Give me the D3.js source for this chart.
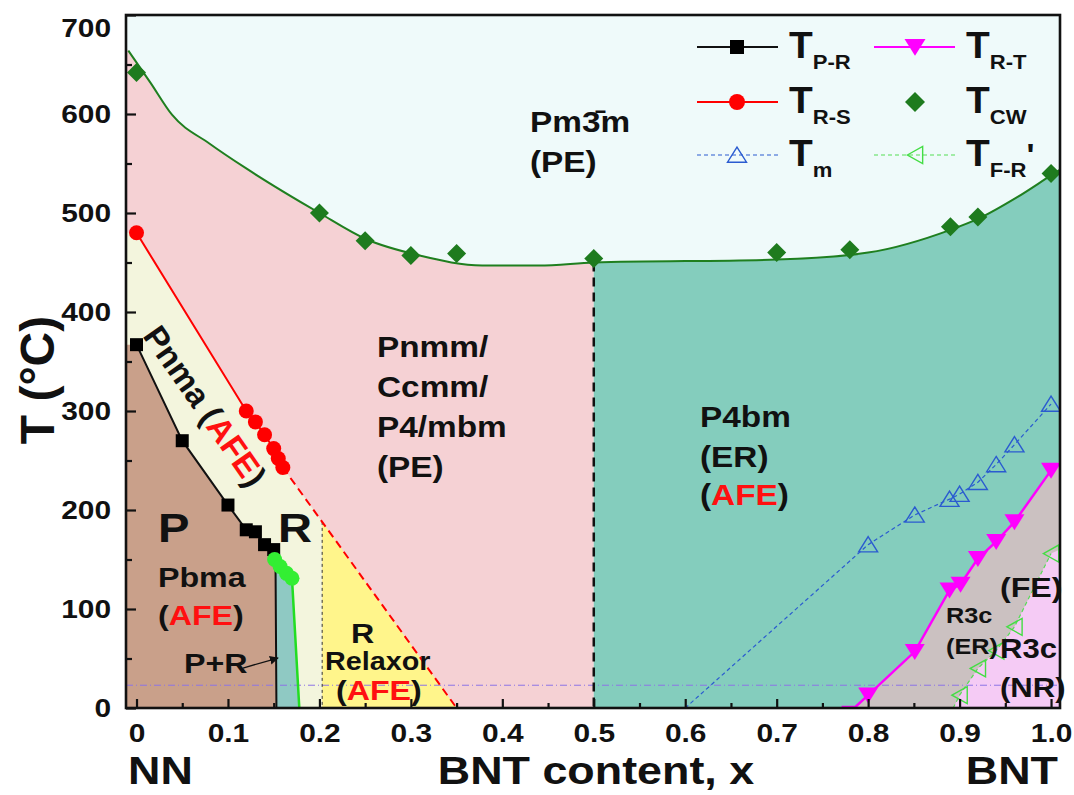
<!DOCTYPE html>
<html>
<head>
<meta charset="utf-8">
<script src="https://cdn.jsdelivr.net/npm/d3@7"></script>
<style>
body { margin: 0; background: #fff; }
text { font-family: "Liberation Sans", Arial, sans-serif; font-weight: bold; fill: #111; }
</style>
</head>
<body>
<div id="chart"></div>
<script>
// ---- data (x = BNT content, T in degC) ----
const tPR = [[0, 367], [0.05, 270], [0.1, 205], [0.12, 180], [0.13, 178], [0.14, 165], [0.15, 160]];
const tPRTail = [[0.152, 145], [0.153, 0]];
const tRS = [[0, 480], [0.12, 300], [0.13, 289], [0.14, 276], [0.15, 262], [0.155, 252], [0.16, 243]];
const tRSDash = [[0.16, 243], [0.35, 0]];
const relaxorEdge = [[0.203, 188], [0.203, 0]];
const greenDots = [[0.151, 150], [0.157, 143], [0.164, 136], [0.17, 131]];
const greenTail = [[0.178, 0]];
const tCW = [[0, 642], [0.2, 500], [0.25, 472], [0.3, 457], [0.35, 459], [0.5, 454], [0.7, 460], [0.78, 463], [0.89, 486], [0.92, 496], [1.0, 540]];
const cwFit = [[-0.009, 664], [0.015, 632], [0.039, 599], [0.08, 570], [0.12, 545], [0.2, 500], [0.25, 474], [0.31, 457], [0.378, 447], [0.44, 447], [0.5, 450], [0.7, 453], [0.8, 460], [0.89, 483], [0.92, 494], [0.963, 516], [1.0, 538], [1.012, 545]];
const cwEdge = [[-0.0115, 667]];
const peBorder = [[0.5, 450], [0.5, 0]];
const tRT = [[0.8, 13], [0.851, 57], [0.889, 119], [0.901, 125], [0.92, 151], [0.94, 168], [0.96, 188], [1.0, 240]];
const tRTStart = [[0.771, 1], [0.786, 1]];
const tm = [[0.8, 165], [0.851, 195], [0.889, 211], [0.9, 216], [0.92, 228], [0.94, 246], [0.96, 266], [1.0, 307]];
const tmStart = [[0.6, 0]];
const tFR = [[0.9, 13], [0.92, 40], [0.94, 58], [0.96, 82], [1.0, 156]];
const tFRStart = [[0.893, 0]];
const roomT = 23;

const xTicks = [0, 0.1, 0.2, 0.3, 0.4, 0.5, 0.6, 0.7, 0.8, 0.9, 1.0];
const xTickLabels = ['0', '0.1', '0.2', '0.3', '0.4', '0.5', '0.6', '0.7', '0.8', '0.9', '1.0'];
const xMinor = [0.05, 0.15, 0.25, 0.35, 0.45, 0.55, 0.65, 0.75, 0.85, 0.95];
const yTicks = [0, 100, 200, 300, 400, 500, 600, 700];
const yMinor = [50, 150, 250, 350, 450, 550, 650];

const W = 1074, H = 795;
const SX = 1.15; // text in the figure is a bit wider than plain Arial
const xDom = [-0.0115, 1.0098];
const X0 = xDom[0], X1 = xDom[1];
const x = d3.scaleLinear().domain(xDom).range([126, 1060]);
const y = d3.scaleLinear().domain([0, 700]).range([708, 15]);

const svg = d3.select('#chart').append('svg').attr('width', W).attr('height', H);
const defs = svg.append('defs');
defs.append('clipPath').attr('id', 'plot').append('rect')
  .attr('x', x(X0)).attr('y', y(700)).attr('width', x(X1) - x(X0)).attr('height', y(0) - y(700));
defs.append('clipPath').attr('id', 'leftPart').append('rect')
  .attr('x', x(X0)).attr('y', 0).attr('width', x(0.5) - x(X0)).attr('height', H);
defs.append('clipPath').attr('id', 'rightPart').append('rect')
  .attr('x', x(0.5)).attr('y', 0).attr('width', x(X1) - x(0.5)).attr('height', H);
defs.append('marker').attr('id', 'arrow').attr('viewBox', '0 0 10 10').attr('refX', 9).attr('refY', 5)
  .attr('markerWidth', 9).attr('markerHeight', 9).attr('markerUnits', 'userSpaceOnUse').attr('orient', 'auto')
  .append('path').attr('d', 'M0,0 L10,5 L0,10 Z').attr('fill', '#111');

const plot = svg.append('g').attr('clip-path', 'url(#plot)');
const line = d3.line().x(d => x(d[0])).y(d => y(d[1]));
const poly = pts => line(pts) + 'Z';

// phase regions
plot.append('rect').attr('x', x(X0)).attr('y', y(700)).attr('width', x(X1) - x(X0)).attr('height', y(0) - y(700)).attr('fill', '#effafa');
const cwArea = d3.area().x(d => x(d[0])).y0(y(0)).y1(d => y(d[1])).curve(d3.curveMonotoneX);
plot.append('path').datum(cwEdge.concat(cwFit)).attr('d', cwArea).attr('fill', '#f5d1d4').attr('clip-path', 'url(#leftPart)');
plot.append('path').datum(cwFit).attr('d', cwArea).attr('fill', '#84cdbd').attr('clip-path', 'url(#rightPart)');

const paleRegion = [[X0, tRS[0][1]]].concat(tRS, relaxorEdge, [[X0, 0]]);
plot.append('path').attr('d', poly(paleRegion)).attr('fill', '#f3f5dd');
const relaxorRegion = [relaxorEdge[0], tRSDash[1], relaxorEdge[1]];
plot.append('path').attr('d', poly(relaxorRegion)).attr('fill', '#fff58b');
const pRegion = [[X0, tPR[0][1]]].concat(tPR, tPRTail, [[X0, 0]]);
plot.append('path').attr('d', poly(pRegion)).attr('fill', '#c9a08a');
const prRegion = [tPRTail[1], tPRTail[0]].concat(greenDots, greenTail);
plot.append('path').attr('d', poly(prRegion)).attr('fill', '#8fc9c3');
const erRegion = tRTStart.concat(tRT, [[X1, 250], [X1, 0], [tRTStart[0][0], 0]]);
plot.append('path').attr('d', poly(erRegion)).attr('fill', '#cbc1c1');
const nrRegion = tFRStart.concat(tFR, [[X1, 160], [X1, 0]]);
plot.append('path').attr('d', poly(nrRegion)).attr('fill', '#f5cbf5');

// boundary lines
plot.append('path').attr('d', line([[X0, roomT], [X1, roomT]])).attr('stroke', '#8d73e6').attr('stroke-width', 1)
  .attr('stroke-dasharray', '7,3,1,3').attr('fill', 'none');
plot.append('path').attr('d', line(relaxorEdge)).attr('stroke', '#333').attr('stroke-width', 1)
  .attr('stroke-dasharray', '3,3').attr('fill', 'none');
plot.append('path').attr('d', line(peBorder)).attr('stroke', '#111').attr('stroke-width', 2.5)
  .attr('stroke-dasharray', '9,6').attr('fill', 'none');
plot.append('path').datum(cwFit).attr('d', line.curve(d3.curveMonotoneX)).attr('stroke', '#1f7f1f').attr('stroke-width', 2).attr('fill', 'none');
line.curve(d3.curveLinear);
plot.append('path').attr('d', line(tRS)).attr('stroke', '#ff0000').attr('stroke-width', 2).attr('fill', 'none');
plot.append('path').attr('d', line(tRSDash)).attr('stroke', '#ff0000').attr('stroke-width', 2)
  .attr('stroke-dasharray', '8,5').attr('fill', 'none');
plot.append('path').attr('d', line(tPR.concat(tPRTail))).attr('stroke', '#111').attr('stroke-width', 2).attr('fill', 'none');
plot.append('path').attr('d', line(greenDots.concat(greenTail))).attr('stroke', '#22dd22').attr('stroke-width', 2.5).attr('fill', 'none');
plot.append('path').attr('d', line(tmStart.concat(tm))).attr('stroke', '#2a5bd0').attr('stroke-width', 1.2)
  .attr('stroke-dasharray', '4,3').attr('fill', 'none');
plot.append('path').attr('d', line(tFRStart.concat(tFR))).attr('stroke', '#55dd55').attr('stroke-width', 1.2)
  .attr('stroke-dasharray', '4,3').attr('fill', 'none');
plot.append('path').attr('d', line(tRTStart.concat(tRT))).attr('stroke', '#ff00ff').attr('stroke-width', 2.5).attr('fill', 'none');

// marker shapes
const shape = {
  square: s => `M${-s / 2},${-s / 2}h${s}v${s}h${-s}Z`,
  diamond: s => `M0,${-s / 2}L${s / 2},0L0,${s / 2}L${-s / 2},0Z`,
  up: s => `M0,${-s * 0.42}L${s / 2},${s * 0.38}L${-s / 2},${s * 0.38}Z`,
  down: s => `M${-s / 2},${-s * 0.38}L${s / 2},${-s * 0.38}L0,${s * 0.42}Z`,
  left: s => `M${-s * 0.45},0L${s * 0.45},${-s / 2}L${s * 0.45},${s / 2}Z`
};
function marks(g, data, kind, size, fill, stroke, sw) {
  g.selectAll(null).data(data).enter().append('path')
    .attr('transform', d => `translate(${x(d[0])},${y(d[1])})`)
    .attr('d', kind === 'circle' ? d3.symbol(d3.symbolCircle, size * size * Math.PI / 4)() : shape[kind](size))
    .attr('fill', fill).attr('stroke', stroke || 'none').attr('stroke-width', sw || 0);
}
marks(plot, tPR, 'square', 13, '#000');
marks(plot, tRS, 'circle', 15, '#ff0000');
marks(plot, greenDots, 'circle', 15, '#33ee33');
marks(plot, tCW, 'diamond', 19, '#1e7b1e');
marks(plot, tm, 'up', 19, 'none', '#2a5bd0', 1.4);
marks(plot, tFR, 'left', 17, 'none', '#44dd44', 1.4);
marks(plot, tRT, 'down', 20, '#ff00ff');

// axes with inward ticks
const ax = svg.append('g');
const gx = ax.append('g').attr('transform', `translate(0,${y(0)})`)
  .call(d3.axisBottom(x).tickValues(xTicks).tickFormat((d, i) => xTickLabels[i]).tickSizeInner(-9).tickSizeOuter(0).tickPadding(16));
ax.append('g').attr('transform', `translate(0,${y(0)})`)
  .call(d3.axisBottom(x).tickValues(xMinor).tickFormat('').tickSizeInner(-5).tickSizeOuter(0));
const gy = ax.append('g').attr('transform', `translate(${x(X0)},0)`)
  .call(d3.axisLeft(y).tickValues(yTicks).tickSizeInner(-10).tickSizeOuter(0).tickPadding(13));
ax.append('g').attr('transform', `translate(${x(X0)},0)`)
  .call(d3.axisLeft(y).tickValues(yMinor).tickFormat('').tickSizeInner(-6).tickSizeOuter(0));
ax.selectAll('.domain').remove();
ax.selectAll('.tick line').attr('stroke', '#111').attr('stroke-width', 2.2);
ax.selectAll('.tick text').attr('font-size', 26).attr('font-family', '"Liberation Sans", Arial, sans-serif')
  .attr('font-weight', 'bold').attr('fill', '#111').attr('transform', `scale(${SX},1)`);
gy.selectAll('.tick text').filter(d => d === 700).attr('dy', '0.32em').attr('y', 13);
gx.selectAll('.tick text').attr('x', 0);

svg.append('rect').attr('x', x(X0)).attr('y', y(700)).attr('width', x(X1) - x(X0)).attr('height', y(0) - y(700))
  .attr('fill', 'none').attr('stroke', '#111').attr('stroke-width', 2.6);

// text helper: parts are strings or {t, c, s, dy}
function label(px, py, parts, size, opt = {}) {
  const sx = opt.sx === undefined ? SX : opt.sx;
  const t = svg.append('text')
    .attr('transform', `translate(${px},${py}) scale(${sx},1)` + (opt.rot ? ` rotate(${opt.rot})` : ''))
    .attr('font-size', size).attr('text-anchor', opt.anchor || 'start');
  parts.forEach(p => {
    const o = typeof p === 'string' ? { t: p } : p;
    const s = t.append('tspan').text(o.t);
    if (o.c) s.style('fill', o.c);
    if (o.s) s.attr('font-size', o.s);
    if (o.dy) s.attr('dy', o.dy);
  });
  return t;
}
const RED = '#ff1010';

label(530, 132, ['Pm3\u0304m'], 29);
label(530, 172, ['(PE)'], 29);
label(377, 357, ['Pnmm/'], 29);
label(377, 397, ['Ccmm/'], 29);
label(377, 437, ['P4/mbm'], 29);
label(377, 477, ['(PE)'], 29);
label(700, 427, ['P4bm'], 29);
label(700, 467, ['(ER)'], 29);
label(700, 505, ['(', { t: 'AFE', c: RED }, ')'], 29);
label(142, 336, ['Pnma (', { t: 'AFE', c: RED }, ')'], 33, { rot: 55, sx: 1 });
label(158, 542, ['P'], 41);
label(278, 542, ['R'], 41);
label(158, 587, ['Pbma'], 28);
label(158, 625, ['(', { t: 'AFE', c: RED }, ')'], 28);
label(184, 673, ['P+R'], 28);
svg.append('path').attr('d', d3.line()([[243, 668], [278, 658]])).attr('stroke', '#111').attr('stroke-width', 1.3)
  .attr('fill', 'none').attr('marker-end', 'url(#arrow)');
label(351, 643, ['R'], 28);
label(325, 670, ['Relaxor'], 25);
label(336, 700, ['(', { t: 'AFE', c: RED }, ')'], 28);
label(946, 623, ['R3c'], 22);
label(946, 654, ['(ER)'], 22);
label(1000, 597, ['(FE)'], 28);
label(1000, 658, ['R3c'], 27);
label(1000, 697, ['(NR)'], 27);

// axis titles
label(54, 380, ['T (\u00B0C)'], 48, { rot: -90, sx: 1, anchor: 'middle' });
label(596, 784, ['BNT content, x'], 39, { anchor: 'middle' });
label(128, 784, ['NN'], 39);
label(1058, 784, ['BNT'], 39, { anchor: 'end' });

// legend
const legNames = [['P-R'], ['R-S'], ['m'], ['R-T'], ['CW'], ['F-R']];
const legRows = [47, 102, 155];
const legCols = [{ x0: 697, x1: 778, mx: 737, tx: 789 }, { x0: 874, x1: 955, mx: 915, tx: 966 }];
const legStyle = [
  { stroke: '#111', kind: 'square', size: 14, fill: '#000' },
  { stroke: '#ff0000', kind: 'circle', size: 16, fill: '#ff0000' },
  { stroke: '#2a5bd0', dash: '4,3', w: 1.2, kind: 'up', size: 19, fill: 'none', ms: '#2a5bd0' },
  { stroke: '#ff00ff', kind: 'down', size: 21, fill: '#ff00ff' },
  { stroke: null, kind: 'diamond', size: 20, fill: '#1e7b1e' },
  { stroke: '#55dd55', dash: '4,3', w: 1.2, kind: 'left', size: 17, fill: 'none', ms: '#44dd44' }
];
legNames.forEach((n, i) => {
  const col = legCols[Math.floor(i / 3)], ry = legRows[i % 3], st = legStyle[i];
  if (st.stroke) {
    svg.append('line').attr('x1', col.x0).attr('x2', col.x1).attr('y1', ry).attr('y2', ry)
      .attr('stroke', st.stroke).attr('stroke-width', st.w || 2.2).attr('stroke-dasharray', st.dash || null);
  }
  svg.append('path').attr('transform', `translate(${col.mx},${ry})`)
    .attr('d', st.kind === 'circle' ? d3.symbol(d3.symbolCircle, st.size * st.size * Math.PI / 4)() : shape[st.kind](st.size))
    .attr('fill', st.fill).attr('stroke', st.ms || 'none').attr('stroke-width', st.ms ? 1.4 : 0);
  const parts = ['T', { t: n[0], s: 21, dy: 11 }];
  if (i === 5) parts.push({ t: "'", s: 32, dy: -11 });
  label(col.tx, ry + 11, parts, 37, { sx: 1.05 });
});
</script>
</body>
</html>
